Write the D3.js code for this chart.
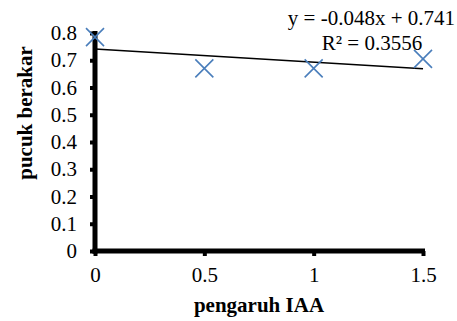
<!DOCTYPE html>
<html>
<head>
<meta charset="utf-8">
<script src="https://cdn.jsdelivr.net/npm/d3@7"></script>
<style>
  body { margin: 0; background: #fff; }
</style>
</head>
<body>
<div id="chart"></div>
<script>
// data
const iaa = [0, 0.5, 1, 1.5];
const pucuk = [0.785, 0.67, 0.67, 0.705];
const xTicks = [0, 0.5, 1, 1.5];
const yTicks = [0, 0.1, 0.2, 0.3, 0.4, 0.5, 0.6, 0.7, 0.8];
const slope = -0.048, intercept = 0.741;
const eqText = "y = -0.048x + 0.741";
const r2Text = "R² = 0.3556";

const width = 457, height = 321;
const serif = "'Liberation Serif', 'Times New Roman', serif";
const fs = 21;

const svg = d3.select("#chart").append("svg")
    .attr("width", width)
    .attr("height", height)
    .attr("font-family", serif);

const x = d3.scaleLinear().domain([0, 1.5]).range([95, 423]);
const y = d3.scaleLinear().domain([0, 0.8]).range([251, 33]);

// y axis
const yAxis = svg.append("g")
    .attr("transform", "translate(" + x(0) + ",0)")
    .call(d3.axisLeft(y).tickValues(yTicks).tickSize(5).tickPadding(13)
      .tickFormat(d => d === 0 ? "0" : d3.format(".1f")(d)))
    .attr("font-family", serif);
yAxis.select(".domain").attr("stroke", "#000").attr("stroke-width", 5)
    .attr("d", "M0," + (y(0) + 2.5) + "V" + (y(0.8) - 2));
yAxis.selectAll(".tick line").attr("stroke-width", 4);
yAxis.selectAll("text").attr("font-size", fs).attr("fill", "#000");

// x axis
const xAxis = svg.append("g")
    .attr("transform", "translate(0," + y(0) + ")")
    .call(d3.axisBottom(x).tickValues(xTicks).tickSize(5).tickPadding(11)
      .tickFormat(d3.format("")))
    .attr("font-family", serif);
xAxis.select(".domain").attr("stroke", "#000").attr("stroke-width", 5)
    .attr("d", "M" + (x(0) - 2.5) + ",0H" + (x(1.5) + 2));
xAxis.selectAll(".tick line").attr("stroke-width", 4);
xAxis.selectAll("text").attr("font-size", fs).attr("fill", "#000");

// trendline
svg.append("line")
    .attr("x1", x(0)).attr("y1", y(intercept))
    .attr("x2", x(1.5)).attr("y2", y(intercept + slope * 1.5))
    .attr("stroke", "#000").attr("stroke-width", 1.5);

// markers
const s = 9;
svg.append("g").selectAll("path")
    .data(iaa.map((d, i) => [d, pucuk[i]]))
  .enter().append("path")
    .attr("d", d => {
      const cx = x(d[0]), cy = y(d[1]);
      return "M" + (cx - s) + "," + (cy - s) + "L" + (cx + s) + "," + (cy + s) +
             "M" + (cx - s) + "," + (cy + s) + "L" + (cx + s) + "," + (cy - s);
    })
    .attr("stroke", "#4a7ebb").attr("stroke-width", 1.6).attr("fill", "none");

// equation
svg.append("text").attr("x", 455).attr("y", 25).attr("text-anchor", "end")
    .attr("font-size", fs).text(eqText);
svg.append("text").attr("x", 372).attr("y", 50).attr("text-anchor", "middle")
    .attr("font-size", fs).text(r2Text);

// axis titles
svg.append("text").attr("x", 259).attr("y", 312).attr("text-anchor", "middle")
    .attr("font-size", fs).attr("font-weight", "bold").text("pengaruh IAA");
svg.append("text").attr("transform", "translate(32,113) rotate(-90)")
    .attr("text-anchor", "middle")
    .attr("font-size", fs).attr("font-weight", "bold").text("pucuk berakar");
</script>
</body>
</html>
